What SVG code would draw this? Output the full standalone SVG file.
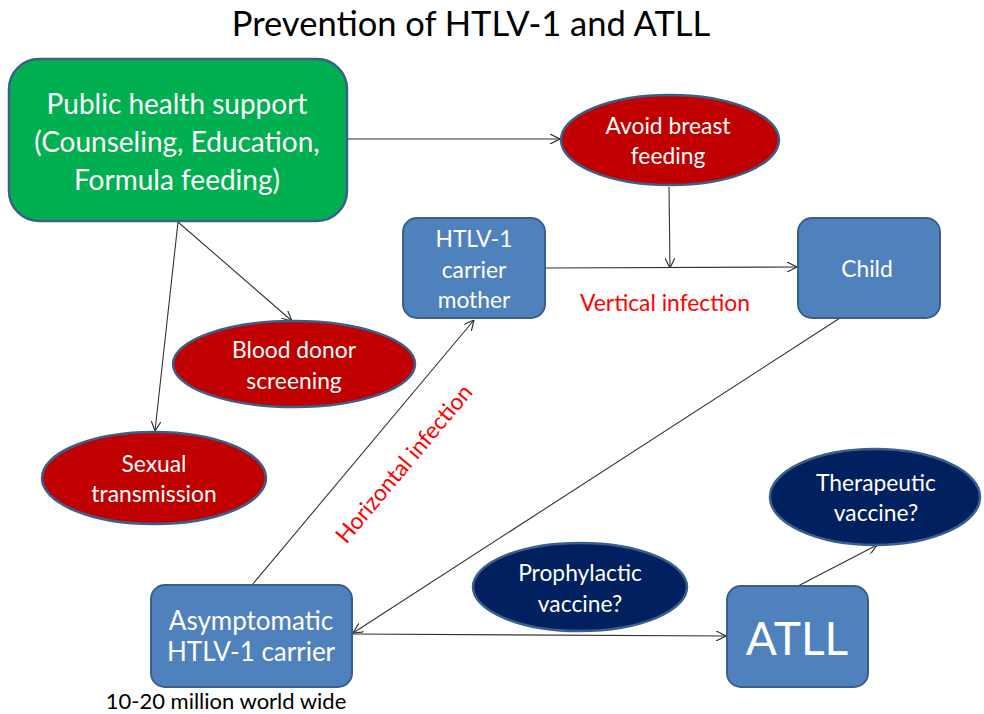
<svg xmlns="http://www.w3.org/2000/svg" width="984" height="714" viewBox="0 0 984 714">
<style>
text{font-family:Lato,"Open Sans","Liberation Sans",sans-serif;text-anchor:middle;dominant-baseline:central}
.w{fill:#fff}
.t{font-size:22.8px}
.box{fill:#4f81bd;stroke:#3a5f8c;stroke-width:2}
.red{fill:#c00000;stroke:#3a5f8c;stroke-width:2.5}
.navy{fill:#002060;stroke:#3a5f8c;stroke-width:2.5}
.c line{stroke:#333;stroke-width:1.1;fill:none}
.a{marker-end:url(#ah)}
</style>
<defs>
<marker id="ah" viewBox="0 0 10 10" refX="10" refY="5" markerWidth="10" markerHeight="10" markerUnits="userSpaceOnUse" orient="auto">
<path d="M0,0 L10,5 L0,10" fill="none" stroke="#333" stroke-width="1.2"/>
</marker>
</defs>
<rect width="984" height="714" fill="#fff"/>
<text x="471" y="22" font-size="34.5" fill="#000">Prevention of HTLV-1 and ATLL</text>
<g class="c">
<line class="a" x1="348" y1="139" x2="560" y2="139"/>
<line class="a" x1="669" y1="187" x2="670" y2="268"/>
<line class="a" x1="545" y1="268" x2="797" y2="267"/>
<line class="a" x1="178" y1="222" x2="292" y2="321"/>
<line class="a" x1="178" y1="222" x2="155" y2="431"/>
<line class="a" x1="252" y1="585" x2="474" y2="320"/>
<line class="a" x1="840" y1="318" x2="353" y2="633"/>
<line class="a" x1="353" y1="634" x2="726" y2="636"/>
<line class="a" x1="798" y1="586" x2="877" y2="545"/>
</g>
<g id="public">
<rect x="9" y="59" width="338" height="162" rx="30" fill="#00b050" stroke="#3a5f8c" stroke-width="2.5"/>
<text class="w" x="177" y="103" font-size="28">Public health support</text>
<text class="w" x="177" y="141" font-size="28">(Counseling, Education,</text>
<text class="w" x="177" y="179" font-size="28">Formula feeding)</text>
</g>
<g id="avoid">
<ellipse class="red" cx="670" cy="140" rx="109" ry="45"/>
<text class="w t" x="668" y="125">Avoid breast</text>
<text class="w t" x="668" y="155">feeding</text>
</g>
<g id="mother">
<rect class="box" x="403" y="218" width="142" height="100" rx="14"/>
<text class="w t" x="474" y="238">HTLV-1</text>
<text class="w t" x="474" y="269">carrier</text>
<text class="w t" x="474" y="299">mother</text>
</g>
<g id="child">
<rect class="box" x="798" y="218" width="142" height="100" rx="14"/>
<text class="w t" x="867" y="268">Child</text>
</g>
<text class="t" x="665" y="302" fill="#ff0000">Vertical infection</text>
<g id="blood">
<ellipse class="red" cx="294" cy="364" rx="121" ry="43"/>
<text class="w t" x="294" y="349">Blood donor</text>
<text class="w t" x="294" y="380">screening</text>
</g>
<g id="sexual">
<ellipse class="red" cx="154" cy="478" rx="112" ry="46"/>
<text class="w t" x="154" y="463">Sexual</text>
<text class="w t" x="154" y="493">transmission</text>
</g>
<text class="t" x="403" y="463" fill="#ff0000" transform="rotate(-50 403 463)">Horizontal infection</text>
<g id="asym">
<rect class="box" x="151" y="585" width="201" height="102" rx="14"/>
<text class="w" x="251" y="620" font-size="26">Asymptomatic</text>
<text class="w" x="251" y="651" font-size="26">HTLV-1 carrier</text>
</g>
<text x="226" y="700" font-size="22" fill="#000">10-20 million world wide</text>
<g id="prophy">
<ellipse class="navy" cx="580" cy="587" rx="107" ry="44"/>
<text class="w t" x="580" y="572">Prophylactic</text>
<text class="w t" x="580" y="603">vaccine?</text>
</g>
<g id="atll">
<rect class="box" x="727" y="586" width="141" height="101" rx="14"/>
<text class="w" x="797" y="637" font-size="46">ATLL</text>
</g>
<g id="thera">
<ellipse class="navy" cx="875" cy="497" rx="105" ry="48"/>
<text class="w t" x="876" y="482">Therapeutic</text>
<text class="w t" x="876" y="512">vaccine?</text>
</g>
</svg>
